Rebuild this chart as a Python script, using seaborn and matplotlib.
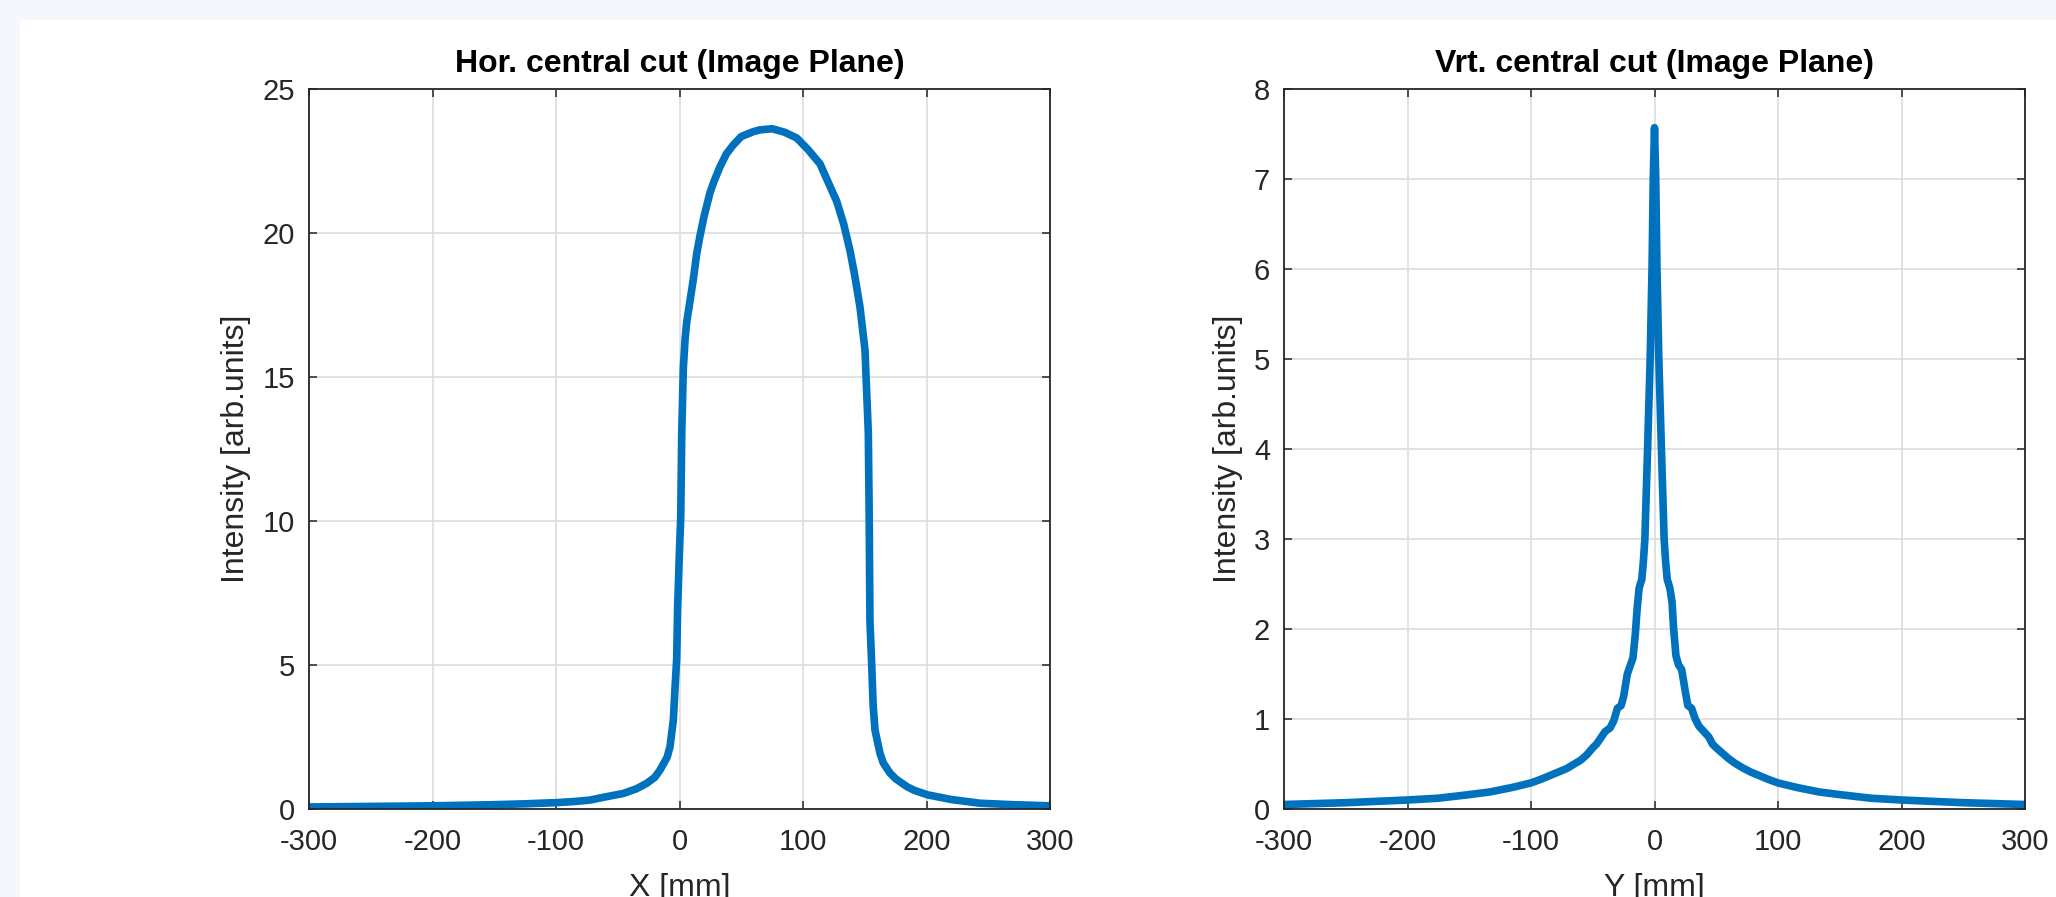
import matplotlib
matplotlib.use("Agg")
import matplotlib.pyplot as plt
from matplotlib.patches import Rectangle
import seaborn as sns
import pandas as pd

# ---------------- data ----------------
hor_x = [-300, -250, -200, -150, -125, -100, -85, -72.5, -60, -45.5, -35, -26.6, -20, -15.8, -10,
         -7.7, -5, -3.5, -2.3, -1.5, 0, 1, 1.8, 3.1, 4.5, 5.8, 8, 11.2, 14, 16.6, 20, 24.7, 28,
         32.8, 38, 43.6, 50, 59.8, 65, 75, 85, 94.9, 104, 113.8, 120, 127.3, 133, 138, 142,
         146.1, 150.2, 152.9, 153.6, 154.2, 155.6, 156.8, 158.3, 162.3, 165, 170.4, 175, 184,
         190, 201, 220, 243.3, 270, 300]
hor_y = [0.07, 0.09, 0.11, 0.15, 0.18, 0.22, 0.26, 0.31, 0.42, 0.54, 0.7, 0.89, 1.1, 1.35, 1.8,
         2.16, 3.08, 4.3, 5.2, 7.0, 9.0, 10.15, 13.0, 15.3, 16.3, 16.9, 17.5, 18.4, 19.3, 19.9,
         20.6, 21.4, 21.8, 22.3, 22.75, 23.06, 23.35, 23.52, 23.58, 23.62, 23.5, 23.3, 22.9,
         22.4, 21.8, 21.1, 20.3, 19.4, 18.5, 17.44, 15.94, 13.05, 10.15, 6.54, 5.04, 3.6, 2.74,
         1.94, 1.6, 1.25, 1.05, 0.78, 0.65, 0.49, 0.33, 0.2, 0.15, 0.11]

vrt_x = [-300, -250, -200, -175, -150, -133, -115, -100, -92, -85, -78, -71, -65, -60, -55, -50,
         -47, -44, -40, -36, -33, -30, -27, -25, -22, -19.5, -17.4, -15.5, -14.2, -12.5, -11.5,
         -10.3, -9, -7.8, -5.6, -3.5, -2, -1, 0, 1, 2, 3.5, 5.6, 7.8, 9, 10.3, 11.5, 12.5, 14.2,
         15.5, 17.4, 19.5, 22, 25, 27, 30, 33, 36, 40, 44, 47, 50, 55, 60, 65, 71, 78, 85, 92,
         100, 115, 133, 150, 175, 200, 250, 300]
vrt_y = [0.05, 0.07, 0.1, 0.12, 0.16, 0.19, 0.24, 0.29, 0.33, 0.37, 0.41, 0.45, 0.5, 0.54, 0.6,
         0.68, 0.72, 0.78, 0.86, 0.9, 0.98, 1.12, 1.15, 1.25, 1.5, 1.6, 1.68, 1.95, 2.2, 2.45, 2.5,
         2.55, 2.75, 3.0, 4.0, 5.0, 6.0, 7.0, 7.57, 7.0, 6.0, 5.0, 4.0, 3.0, 2.75, 2.55, 2.5, 2.45,
         2.3, 2.0, 1.7, 1.6, 1.55, 1.3, 1.15, 1.12, 1.0, 0.92, 0.86, 0.8, 0.72, 0.68, 0.62, 0.56,
         0.51, 0.46, 0.41, 0.37, 0.33, 0.29, 0.24, 0.19, 0.16, 0.12, 0.1, 0.07, 0.05]

titles = ["Hor. central cut (Image Plane)", "Vrt. central cut (Image Plane)"]
xlabels = ["X [mm]", "Y [mm]"]
ylabel = "Intensity [arb.units]"
xticks = [-300, -200, -100, 0, 100, 200, 300]
yticks_h = [0, 5, 10, 15, 20, 25]
yticks_v = [0, 1, 2, 3, 4, 5, 6, 7, 8]

# ---------------- style ----------------
sns.set_theme(style="whitegrid")
plt.rcParams['font.family'] = ['Liberation Sans', 'DejaVu Sans']

W, H = 2056, 897
fig = plt.figure(figsize=(W / 100, H / 100), dpi=100)
fig.patch.set_facecolor('#F4F7FC')
fig.add_artist(Rectangle((20 / W, 0), 1, 1 - 20 / H, transform=fig.transFigure,
                         facecolor='white', edgecolor='none', zorder=-10))

def pos(x0, x1, y0, y1):
    return [x0 / W, 1 - y1 / H, (x1 - x0) / W, (y1 - y0) / H]

ax1 = fig.add_axes(pos(309, 1050, 89, 809))
ax2 = fig.add_axes(pos(1284, 2025, 89, 809))

line_color = '#0072BD'
txt = '#262626'

df_h = pd.DataFrame({"x": hor_x, "y": hor_y})
df_v = pd.DataFrame({"x": vrt_x, "y": vrt_y})

for ax, df, title, xl, yt, ymax in [(ax1, df_h, titles[0], xlabels[0], yticks_h, 25),
                                    (ax2, df_v, titles[1], xlabels[1], yticks_v, 8)]:
    ax.set_facecolor('white')
    sns.lineplot(data=df, x="x", y="y", ax=ax, color=line_color, linewidth=5.5,
                 sort=False, estimator=None, solid_capstyle='round', solid_joinstyle='round')
    ax.set_xlim(-300, 300)
    ax.set_ylim(0, ymax)
    ax.set_xticks(xticks)
    ax.set_yticks(yt)
    ax.set_xticklabels([str(v) for v in xticks])
    ax.set_yticklabels([str(v) for v in yt])
    ax.grid(True, color='#DCDCDC', linewidth=1.2)
    ax.set_axisbelow(True)
    for s in ax.spines.values():
        s.set_visible(True)
        s.set_color(txt)
        s.set_linewidth(1.3)
    ax.tick_params(direction='in', length=6, width=1.1, color=txt,
                   top=True, right=True, bottom=True, left=True,
                   labelsize=21, labelcolor=txt)
    ax.tick_params(axis='y', pad=10)
    ax.tick_params(axis='x', pad=14)
    ax.set_title(title, fontsize=23, fontweight='bold', color='black', pad=12)
    ax.set_xlabel(xl, fontsize=23, color=txt, labelpad=12)
    ax.set_ylabel(ylabel, fontsize=23, color=txt, labelpad=8)

fig.savefig("out.png", dpi=100, facecolor=fig.get_facecolor())
